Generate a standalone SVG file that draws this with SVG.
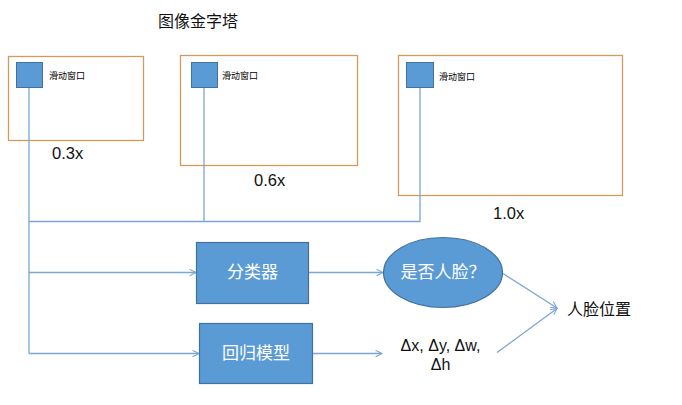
<svg xmlns="http://www.w3.org/2000/svg" width="682" height="405" viewBox="0 0 682 405">
<defs>
<style>
text{font-family:"Liberation Sans","Noto Sans CJK SC",sans-serif;dominant-baseline:central}
.frame{fill:#fff;stroke:#d39a5e;stroke-width:1.3}
.win{fill:#5b9bd5;stroke:#41719c;stroke-width:1}
.proc{fill:#5b9bd5;stroke:#41719c;stroke-width:1.2}
.small{font-size:9px;fill:#000}
.lbl{font-size:16.5px;fill:#111}
.white{font-size:17px;fill:#fff;text-anchor:middle}
.conn{fill:none;stroke:#7aa6d2;stroke-width:1.3}
</style>
<marker id="arr" viewBox="0 0 10 10" refX="9" refY="5" markerWidth="8" markerHeight="8" markerUnits="userSpaceOnUse" orient="auto">
<path d="M1,1 L9,5 L1,9" fill="none" stroke="#7aa6d2" stroke-width="1.3"/>
</marker>
</defs>
<rect width="682" height="405" fill="#fff"/>
<text id="title" x="198" y="21" font-size="16" text-anchor="middle" fill="#111">图像金字塔</text>

<g id="scale03">
<rect class="frame" x="8.5" y="56.5" width="135" height="84"/>
<rect class="win" x="16.5" y="62.5" width="26" height="25"/>
<text class="small" x="49" y="76">滑动窗口</text>
<text class="lbl" x="52" y="153">0.3x</text>
</g>
<g id="scale06">
<rect class="frame" x="180.5" y="55.5" width="177" height="110"/>
<rect class="win" x="191.5" y="62.5" width="26" height="25"/>
<text class="small" x="222" y="76">滑动窗口</text>
<text class="lbl" x="254" y="180">0.6x</text>
</g>
<g id="scale10">
<rect class="frame" x="398.5" y="55.5" width="224" height="140"/>
<rect class="win" x="406.5" y="62.5" width="27" height="25"/>
<text class="small" x="439" y="77">滑动窗口</text>
<text class="lbl" x="493" y="213">1.0x</text>
</g>

<g id="connectors">
<path class="conn" d="M29,88 V353.5"/>
<path class="conn" d="M204,88 V221.5"/>
<path class="conn" d="M420,88 V221.5 H29"/>
<path class="conn" d="M29,272.5 H196" marker-end="url(#arr)"/>
<path class="conn" d="M29,353.5 H199" marker-end="url(#arr)"/>
<path class="conn" d="M309,272.5 H383" marker-end="url(#arr)"/>
<path class="conn" d="M312,353.5 H382" marker-end="url(#arr)"/>
<path class="conn" d="M503,273.5 L557,308" marker-end="url(#arr)"/>
<path class="conn" d="M497,352.5 L557,308.5" marker-end="url(#arr)"/>
</g>

<g id="classifier">
<rect class="proc" x="196.5" y="242.5" width="112" height="61"/>
<text class="white" x="252.5" y="272.5">分类器</text>
</g>
<g id="regressor">
<rect class="proc" x="199.5" y="323.5" width="113" height="60"/>
<text class="white" x="256" y="353.5">回归模型</text>
</g>
<g id="isface">
<ellipse class="proc" cx="443" cy="272.5" rx="59.5" ry="35"/>
<text class="white" x="443" y="272">是否人脸？</text>
</g>
<g id="deltas">
<text x="440.5" y="345" font-size="16" fill="#111" text-anchor="middle">Δx, Δy, Δw,</text>
<text x="440.5" y="364" font-size="16" fill="#111" text-anchor="middle">Δh</text>
</g>
<g id="facepos">
<text x="567" y="309" font-size="16" fill="#111">人脸位置</text>
</g>
</svg>
